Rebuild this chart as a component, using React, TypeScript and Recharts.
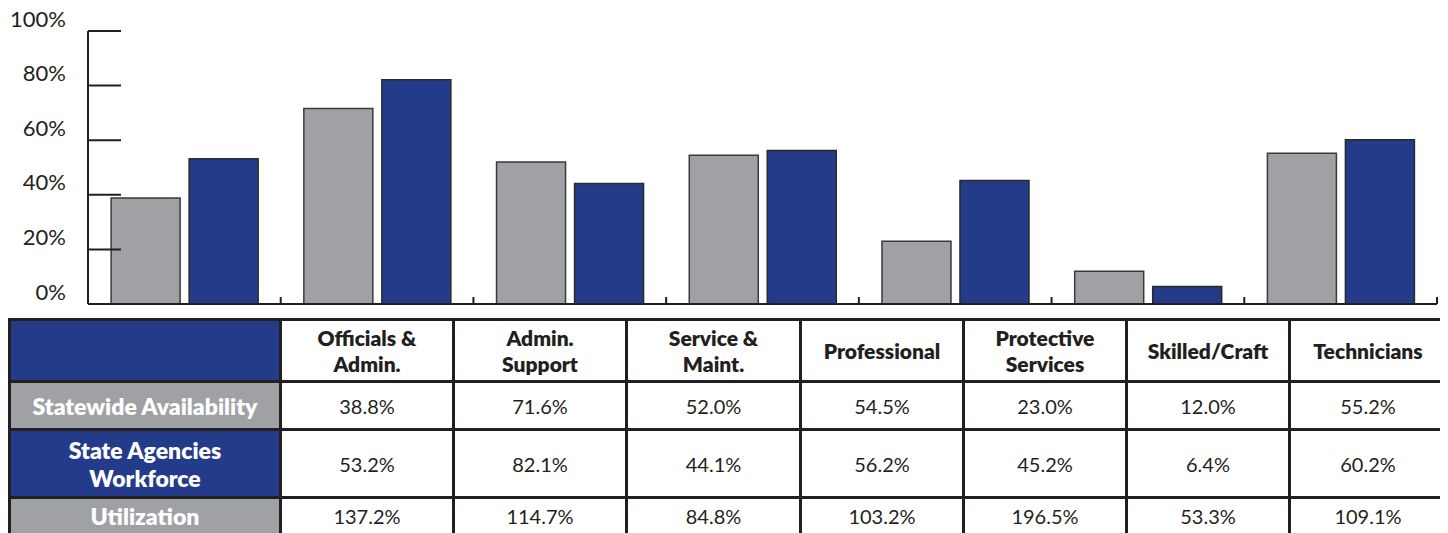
import { Bar, BarChart, XAxis, YAxis } from "recharts";

const categories = [
  "Officials &\nAdmin.",
  "Admin.\nSupport",
  "Service &\nMaint.",
  "Professional",
  "Protective\nServices",
  "Skilled/Craft",
  "Technicians",
];
const availability = [38.8, 71.6, 52.0, 54.5, 23.0, 12.0, 55.2];
const workforce = [53.2, 82.1, 44.1, 56.2, 45.2, 6.4, 60.2];
const utilization = [137.2, 114.7, 84.8, 103.2, 196.5, 53.3, 109.1];
const yTicks = [0, 20, 40, 60, 80, 100];

const GRAY = "#a0a1a5";
const BLUE = "#233b89";
const INK = "#231f20";
const FONT = "Lato, 'Open Sans', sans-serif";

const chartData = categories.map((c, i) => ({
  name: c,
  availability: availability[i],
  workforce: workforce[i],
}));

const rows = [
  { label: "Statewide Availability", bg: GRAY, values: availability, height: 48 },
  { label: "State Agencies\nWorkforce", bg: BLUE, values: workforce, height: 68 },
  { label: "Utilization", bg: GRAY, values: utilization, height: 37 },
];

const colWidths = [271, 173, 173, 174, 163, 163, 163, 157];

function YTick(props: any) {
  const { x, y, payload } = props;
  return (
    <text x={x} y={y - 13} textAnchor="end" dominantBaseline="central" fontSize={22} fill={INK} fontFamily={FONT}>
      {payload.value}%
    </text>
  );
}

// short upward mark at the right edge of each category band
function EdgeTick(props: any) {
  const { x, y, payload } = props;
  const ex = x + (payload.offset || 0);
  return <line x1={ex} x2={ex} y1={y} y2={y - 7} stroke={INK} strokeWidth={2} />;
}

const cellBorder = `3px solid ${INK}`;

export default function App() {
  return (
    <div style={{ position: "relative", top: -8, width: 1440, height: 533, fontFamily: FONT }}>
      <BarChart
        width={1440}
        height={310}
        data={chartData}
        margin={{ top: 31, right: 11, bottom: 0, left: 0 }}
        barCategoryGap="12%"
        barGap={9}
      >
        <XAxis
          dataKey="name"
          height={6}
          interval={0}
          tickSize={0}
          tickMargin={0}
          tickLine={false}
          tick={EdgeTick}
          axisLine={{ stroke: INK, strokeWidth: 2 }}
        />
        <YAxis
          width={80}
          domain={[0, 100]}
          ticks={yTicks}
          interval={0}
          tickSize={-33}
          tickMargin={55}
          tick={YTick}
          axisLine={{ stroke: INK, strokeWidth: 2 }}
          tickLine={{ stroke: INK, strokeWidth: 2 }}
        />
        <Bar dataKey="availability" fill={GRAY} stroke="#3a3a3a" strokeWidth={1.5} isAnimationActive={false} />
        <Bar dataKey="workforce" fill={BLUE} stroke="#2a2a2a" strokeWidth={1.5} isAnimationActive={false} />
      </BarChart>
      <table
        style={{
          position: "absolute",
          left: 0,
          top: 318,
          width: 1437,
          borderCollapse: "collapse",
          tableLayout: "fixed",
          color: INK,
        }}
      >
        <colgroup>
          {colWidths.map((w, i) => (
            <col key={i} style={{ width: w }} />
          ))}
        </colgroup>
        <tbody>
          <tr style={{ height: 62 }}>
            <td style={{ background: BLUE, border: cellBorder }} />
            {categories.map((c) => (
              <td
                key={c}
                style={{
                  border: cellBorder,
                  textAlign: "center",
                  fontWeight: 800,
                  fontSize: 21,
                  lineHeight: "26px",
                  whiteSpace: "pre-line",
                  padding: 0,
                }}
              >
                {c}
              </td>
            ))}
          </tr>
          {rows.map((r) => (
            <tr key={r.label} style={{ height: r.height }}>
              <td
                style={{
                  background: r.bg,
                  color: "#fff",
                  border: cellBorder,
                  textAlign: "center",
                  fontWeight: 800,
                  fontSize: 23,
                  lineHeight: "28px",
                  whiteSpace: "pre-line",
                  padding: 0,
                }}
              >
                {r.label}
              </td>
              {r.values.map((v, i) => (
                <td key={i} style={{ border: cellBorder, textAlign: "center", fontSize: 20, padding: 0 }}>
                  {v.toFixed(1)}%
                </td>
              ))}
            </tr>
          ))}
        </tbody>
      </table>
    </div>
  );
}
